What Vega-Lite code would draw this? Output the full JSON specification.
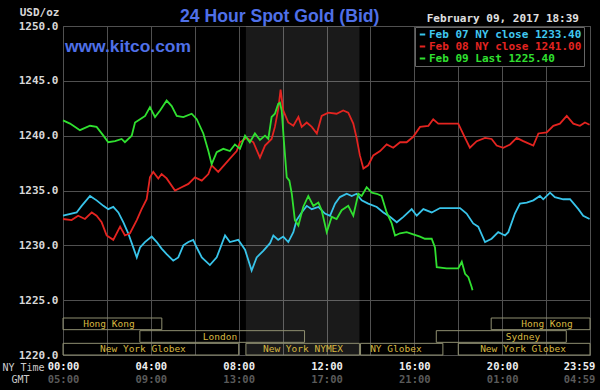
{
"$schema": "https://vega.github.io/schema/vega-lite/v6.json",
"width": 527, "height": 329,
"autosize": "none",
"padding": {"left": 63, "top": 26, "right": 10, "bottom": 35},
"background": "#000000",
"title": {"text": "24 Hour Spot Gold (Bid)", "anchor": "start", "frame": "group", "dx": 117, "dy": 37.5, "offset": 5, "baseline": "alphabetic", "font": "Liberation Sans", "fontSize": 17.6, "fontWeight": "bold", "color": "#4f70e8"},
"layer": [
{"layer": [
 {"data": {"values": [{"from": 8.33, "to": 13.5}]},
  "mark": {"type": "rect", "color": "#ffffff", "opacity": 0.1},
  "encoding": {"x": {"field": "from", "type": "quantitative", "scale": {"domain": [0, 24], "nice": false}}, "x2": {"field": "to"}, "y": {"datum": 1250, "type": "quantitative"}, "y2": {"datum": 1220}}},
 {"data": {"values": [
{"s":"07","h":0,"p":1232.7},{"s":"07","h":0.62,"p":1233.0},{"s":"07","h":0.85,"p":1233.6},{"s":"07","h":1.23,"p":1234.5},{"s":"07","h":1.53,"p":1234.1},{"s":"07","h":1.84,"p":1233.6},{"s":"07","h":2.06,"p":1233.3},{"s":"07","h":2.29,"p":1233.5},{"s":"07","h":2.52,"p":1233.0},{"s":"07","h":2.75,"p":1232.1},{"s":"07","h":2.97,"p":1231.1},{"s":"07","h":3.13,"p":1230.2},{"s":"07","h":3.36,"p":1228.9},{"s":"07","h":3.51,"p":1229.8},{"s":"07","h":3.73,"p":1230.3},{"s":"07","h":4.04,"p":1230.8},{"s":"07","h":4.27,"p":1230.3},{"s":"07","h":4.49,"p":1229.7},{"s":"07","h":4.72,"p":1229.2},{"s":"07","h":5.02,"p":1228.6},{"s":"07","h":5.25,"p":1228.9},{"s":"07","h":5.48,"p":1230.0},{"s":"07","h":5.71,"p":1230.3},{"s":"07","h":5.93,"p":1230.5},{"s":"07","h":6.09,"p":1229.8},{"s":"07","h":6.32,"p":1228.9},{"s":"07","h":6.69,"p":1228.2},{"s":"07","h":7.0,"p":1228.9},{"s":"07","h":7.38,"p":1230.9},{"s":"07","h":7.6,"p":1230.3},{"s":"07","h":7.98,"p":1230.5},{"s":"07","h":8.29,"p":1229.6},{"s":"07","h":8.59,"p":1227.7},{"s":"07","h":8.82,"p":1228.9},{"s":"07","h":9.12,"p":1229.5},{"s":"07","h":9.43,"p":1230.2},{"s":"07","h":9.58,"p":1230.9},{"s":"07","h":9.8,"p":1230.5},{"s":"07","h":10.03,"p":1230.8},{"s":"07","h":10.26,"p":1230.3},{"s":"07","h":10.49,"p":1231.2},{"s":"07","h":10.64,"p":1232.3},{"s":"07","h":10.87,"p":1233.0},{"s":"07","h":11.1,"p":1233.6},{"s":"07","h":11.33,"p":1233.3},{"s":"07","h":11.63,"p":1233.5},{"s":"07","h":11.93,"p":1232.9},{"s":"07","h":12.16,"p":1232.7},{"s":"07","h":12.39,"p":1233.8},{"s":"07","h":12.61,"p":1234.4},{"s":"07","h":12.92,"p":1234.7},{"s":"07","h":13.15,"p":1234.5},{"s":"07","h":13.37,"p":1234.7},{"s":"07","h":13.6,"p":1234.1},{"s":"07","h":13.9,"p":1233.8},{"s":"07","h":14.29,"p":1233.5},{"s":"07","h":14.59,"p":1233.0},{"s":"07","h":14.89,"p":1232.6},{"s":"07","h":15.2,"p":1232.1},{"s":"07","h":15.5,"p":1232.6},{"s":"07","h":15.88,"p":1233.3},{"s":"07","h":16.11,"p":1232.7},{"s":"07","h":16.41,"p":1233.3},{"s":"07","h":16.79,"p":1233.0},{"s":"07","h":17.17,"p":1233.4},{"s":"07","h":18.08,"p":1233.4},{"s":"07","h":18.38,"p":1232.9},{"s":"07","h":18.68,"p":1232.0},{"s":"07","h":18.91,"p":1231.7},{"s":"07","h":19.22,"p":1230.3},{"s":"07","h":19.52,"p":1230.6},{"s":"07","h":19.82,"p":1231.2},{"s":"07","h":20.13,"p":1230.9},{"s":"07","h":20.28,"p":1231.2},{"s":"07","h":20.58,"p":1232.9},{"s":"07","h":20.81,"p":1233.8},{"s":"07","h":21.12,"p":1233.9},{"s":"07","h":21.42,"p":1234.1},{"s":"07","h":21.72,"p":1234.5},{"s":"07","h":21.87,"p":1234.2},{"s":"07","h":22.18,"p":1234.8},{"s":"07","h":22.4,"p":1234.4},{"s":"07","h":22.78,"p":1234.2},{"s":"07","h":23.09,"p":1234.2},{"s":"07","h":23.47,"p":1233.3},{"s":"07","h":23.69,"p":1232.7},{"s":"07","h":23.98,"p":1232.4},
{"s":"08","h":0,"p":1232.4},{"s":"08","h":0.39,"p":1232.3},{"s":"08","h":0.69,"p":1232.7},{"s":"08","h":1.0,"p":1232.4},{"s":"08","h":1.31,"p":1233.0},{"s":"08","h":1.53,"p":1232.7},{"s":"08","h":1.76,"p":1232.1},{"s":"08","h":1.99,"p":1230.9},{"s":"08","h":2.29,"p":1230.5},{"s":"08","h":2.6,"p":1231.7},{"s":"08","h":2.82,"p":1230.9},{"s":"08","h":3.05,"p":1231.1},{"s":"08","h":3.36,"p":1232.3},{"s":"08","h":3.58,"p":1233.3},{"s":"08","h":3.81,"p":1234.2},{"s":"08","h":3.96,"p":1236.2},{"s":"08","h":4.11,"p":1236.7},{"s":"08","h":4.34,"p":1236.1},{"s":"08","h":4.49,"p":1236.5},{"s":"08","h":4.72,"p":1236.1},{"s":"08","h":5.1,"p":1235.0},{"s":"08","h":5.4,"p":1235.3},{"s":"08","h":5.71,"p":1235.6},{"s":"08","h":6.01,"p":1236.2},{"s":"08","h":6.32,"p":1235.9},{"s":"08","h":6.62,"p":1236.5},{"s":"08","h":6.77,"p":1237.3},{"s":"08","h":7.07,"p":1236.7},{"s":"08","h":7.38,"p":1237.4},{"s":"08","h":7.6,"p":1237.9},{"s":"08","h":7.91,"p":1238.6},{"s":"08","h":8.06,"p":1239.4},{"s":"08","h":8.36,"p":1239.8},{"s":"08","h":8.67,"p":1239.4},{"s":"08","h":8.97,"p":1238.0},{"s":"08","h":9.2,"p":1239.1},{"s":"08","h":9.5,"p":1239.7},{"s":"08","h":9.65,"p":1240.8},{"s":"08","h":9.8,"p":1242.4},{"s":"08","h":9.91,"p":1244.2},{"s":"08","h":10.03,"p":1242.3},{"s":"08","h":10.26,"p":1241.2},{"s":"08","h":10.49,"p":1240.9},{"s":"08","h":10.72,"p":1241.7},{"s":"08","h":10.87,"p":1240.8},{"s":"08","h":11.1,"p":1241.2},{"s":"08","h":11.33,"p":1240.8},{"s":"08","h":11.56,"p":1240.2},{"s":"08","h":11.78,"p":1241.8},{"s":"08","h":12.08,"p":1242.1},{"s":"08","h":12.46,"p":1242.0},{"s":"08","h":12.76,"p":1242.3},{"s":"08","h":12.99,"p":1242.1},{"s":"08","h":13.22,"p":1241.1},{"s":"08","h":13.37,"p":1239.8},{"s":"08","h":13.52,"p":1238.2},{"s":"08","h":13.68,"p":1237.0},{"s":"08","h":13.9,"p":1237.3},{"s":"08","h":14.13,"p":1238.2},{"s":"08","h":14.44,"p":1238.6},{"s":"08","h":14.74,"p":1239.2},{"s":"08","h":15.04,"p":1238.9},{"s":"08","h":15.35,"p":1239.4},{"s":"08","h":15.65,"p":1239.4},{"s":"08","h":15.95,"p":1239.9},{"s":"08","h":16.26,"p":1240.8},{"s":"08","h":16.64,"p":1240.9},{"s":"08","h":16.86,"p":1241.5},{"s":"08","h":17.09,"p":1241.1},{"s":"08","h":18.0,"p":1241.1},{"s":"08","h":18.31,"p":1239.8},{"s":"08","h":18.53,"p":1238.9},{"s":"08","h":18.84,"p":1239.5},{"s":"08","h":19.22,"p":1239.8},{"s":"08","h":19.52,"p":1239.7},{"s":"08","h":19.75,"p":1239.1},{"s":"08","h":20.05,"p":1238.9},{"s":"08","h":20.36,"p":1239.2},{"s":"08","h":20.66,"p":1239.8},{"s":"08","h":20.96,"p":1239.5},{"s":"08","h":21.42,"p":1239.1},{"s":"08","h":21.65,"p":1240.2},{"s":"08","h":22.03,"p":1240.3},{"s":"08","h":22.33,"p":1240.9},{"s":"08","h":22.63,"p":1241.1},{"s":"08","h":22.94,"p":1241.8},{"s":"08","h":23.24,"p":1241.1},{"s":"08","h":23.54,"p":1240.9},{"s":"08","h":23.77,"p":1241.2},{"s":"08","h":23.98,"p":1241.0},
{"s":"09","h":0,"p":1241.4},{"s":"09","h":0.32,"p":1241.1},{"s":"09","h":0.77,"p":1240.5},{"s":"09","h":1.23,"p":1240.9},{"s":"09","h":1.53,"p":1240.8},{"s":"09","h":1.84,"p":1240.0},{"s":"09","h":2.06,"p":1239.4},{"s":"09","h":2.37,"p":1239.5},{"s":"09","h":2.67,"p":1239.7},{"s":"09","h":2.82,"p":1239.4},{"s":"09","h":3.13,"p":1240.0},{"s":"09","h":3.28,"p":1241.2},{"s":"09","h":3.51,"p":1241.5},{"s":"09","h":3.74,"p":1241.8},{"s":"09","h":3.96,"p":1242.6},{"s":"09","h":4.19,"p":1241.7},{"s":"09","h":4.42,"p":1242.3},{"s":"09","h":4.72,"p":1243.2},{"s":"09","h":4.95,"p":1242.7},{"s":"09","h":5.18,"p":1241.8},{"s":"09","h":5.48,"p":1241.7},{"s":"09","h":5.86,"p":1242.0},{"s":"09","h":6.09,"p":1241.5},{"s":"09","h":6.39,"p":1240.2},{"s":"09","h":6.62,"p":1238.6},{"s":"09","h":6.77,"p":1237.4},{"s":"09","h":7.0,"p":1238.5},{"s":"09","h":7.3,"p":1238.8},{"s":"09","h":7.6,"p":1238.6},{"s":"09","h":7.83,"p":1239.2},{"s":"09","h":8.06,"p":1238.8},{"s":"09","h":8.29,"p":1240.0},{"s":"09","h":8.51,"p":1239.4},{"s":"09","h":8.74,"p":1240.2},{"s":"09","h":8.97,"p":1239.6},{"s":"09","h":9.2,"p":1240.0},{"s":"09","h":9.35,"p":1239.7},{"s":"09","h":9.5,"p":1241.7},{"s":"09","h":9.65,"p":1242.0},{"s":"09","h":9.8,"p":1242.9},{"s":"09","h":9.88,"p":1243.0},{"s":"09","h":9.96,"p":1242.3},{"s":"09","h":10.06,"p":1239.5},{"s":"09","h":10.19,"p":1236.2},{"s":"09","h":10.31,"p":1235.9},{"s":"09","h":10.42,"p":1234.7},{"s":"09","h":10.56,"p":1232.3},{"s":"09","h":10.72,"p":1231.8},{"s":"09","h":10.94,"p":1233.5},{"s":"09","h":11.17,"p":1234.5},{"s":"09","h":11.4,"p":1233.6},{"s":"09","h":11.63,"p":1233.9},{"s":"09","h":11.78,"p":1233.2},{"s":"09","h":12.01,"p":1231.2},{"s":"09","h":12.24,"p":1232.6},{"s":"09","h":12.46,"p":1232.4},{"s":"09","h":12.69,"p":1233.2},{"s":"09","h":12.99,"p":1233.6},{"s":"09","h":13.22,"p":1232.7},{"s":"09","h":13.45,"p":1234.7},{"s":"09","h":13.6,"p":1234.5},{"s":"09","h":13.83,"p":1235.3},{"s":"09","h":14.06,"p":1234.8},{"s":"09","h":14.29,"p":1234.7},{"s":"09","h":14.51,"p":1234.5},{"s":"09","h":14.74,"p":1233.0},{"s":"09","h":14.97,"p":1232.0},{"s":"09","h":15.12,"p":1230.9},{"s":"09","h":15.35,"p":1231.1},{"s":"09","h":15.65,"p":1231.2},{"s":"09","h":15.95,"p":1231.0},{"s":"09","h":16.26,"p":1230.8},{"s":"09","h":16.48,"p":1230.6},{"s":"09","h":16.79,"p":1230.6},{"s":"09","h":16.94,"p":1229.8},{"s":"09","h":17.02,"p":1228.0},{"s":"09","h":17.47,"p":1227.9},{"s":"09","h":18.0,"p":1227.9},{"s":"09","h":18.16,"p":1228.5},{"s":"09","h":18.31,"p":1227.4},{"s":"09","h":18.46,"p":1227.1},{"s":"09","h":18.61,"p":1226.2},{"s":"09","h":18.65,"p":1225.9}
 ]},
  "mark": {"type": "line", "strokeWidth": 1.8},
  "encoding": {
   "x": {"field": "h", "type": "quantitative", "scale": {"domain": [0, 24], "nice": false},
     "axis": {"values": [0,2,4,6,8,10,12,14,16,18,20,22,24], "grid": true, "domain": false, "ticks": false,
       "labelExpr": "datum.value % 4 != 0 ? '' : (datum.value == 24 ? '23:59' : (datum.value < 10 ? '0' : '') + datum.value + ':00')",
       "labelFont": "DejaVu Sans Mono", "labelFontWeight": "bold", "labelFontSize": 10.5, "labelColor": "#eeeeee", "labelPadding": 6,
       "labelFlush": false, "labelOverlap": false, "labelBound": false,
       "labelOffset": {"condition": {"test": "datum.value == 24", "value": -11}, "value": 0},
       "title": "NY Time", "titleX": -40, "titleY": 12.6, "titleAlign": "center", "titleBaseline": "middle", "titleFont": "DejaVu Sans Mono", "titleFontSize": 10, "titleFontWeight": "normal", "titleColor": "#cccccc"}},
   "y": {"field": "p", "type": "quantitative", "scale": {"domain": [1220, 1250], "zero": false, "nice": false},
     "axis": {"values": [1220,1225,1230,1235,1240,1245,1250], "format": ".1f", "grid": true, "domain": false, "ticks": false,
       "labelFont": "DejaVu Sans Mono", "labelFontWeight": "bold", "labelFontSize": 11, "labelColor": "#d8d8d8", "labelPadding": 5,
       "title": "USD/oz", "titleAngle": 0, "titleX": -4, "titleY": -13.3, "titleAlign": "right", "titleBaseline": "middle", "titleFont": "DejaVu Sans Mono", "titleFontWeight": "bold", "titleFontSize": 11, "titleColor": "#d8d8d8"}},
   "color": {"field": "s", "type": "nominal", "scale": {"domain": ["07", "08", "09"], "range": ["#38c4ea", "#e42420", "#30e030"]},
     "legend": {"orient": "none", "legendX": 352, "legendY": 1, "title": null, "direction": "vertical",
       "symbolType": "stroke", "symbolSize": 30, "symbolStrokeWidth": 2,
       "labelFont": "DejaVu Sans Mono", "labelFontWeight": "bold", "labelFontSize": 11,
       "labelColor": {"expr": "datum.value == '07' ? '#40c8f0' : datum.value == '08' ? '#e42420' : '#30e030'"},
       "labelExpr": "datum.value == '07' ? 'Feb 07 NY close 1233.40' : datum.value == '08' ? 'Feb 08 NY close 1241.00' : 'Feb 09 Last 1225.40'",
       "labelOffset": 1, "rowPadding": 0, "padding": 2, "fillColor": "#000000", "strokeColor": "#666666", "labelLimit": 300}}
  }},
 {"data": {"values": [{"t": "www.kitco.com"}]},
  "mark": {"type": "text", "align": "left", "baseline": "middle", "font": "Liberation Sans", "fontSize": 17.4, "fontWeight": "bold", "color": "#4f70e8", "dx": 2},
  "encoding": {"x": {"datum": 0, "type": "quantitative"}, "y": {"datum": 1248.1, "type": "quantitative"}, "text": {"field": "t"}}},
 {"data": {"values": [{"t": "February 09, 2017 18:39"}]},
  "mark": {"type": "text", "align": "right", "baseline": "middle", "font": "DejaVu Sans Mono", "fontSize": 11, "fontWeight": "bold", "color": "#e0e0e0", "dx": -11, "dy": -7},
  "encoding": {"x": {"datum": 24, "type": "quantitative"}, "y": {"datum": 1250, "type": "quantitative"}, "text": {"field": "t"}}}
]},
{"data": {"values": [
 {"name": "Hong Kong", "row": "r1", "start": 0, "end": 4.5, "mid": 2.09},
 {"name": "Hong Kong", "row": "r1", "start": 19.5, "end": 24, "mid": 22.04},
 {"name": "London", "row": "r2", "start": 3.5, "end": 11, "mid": 7.15},
 {"name": "Sydney", "row": "r2", "start": 17, "end": 22.92, "mid": 20.95},
 {"name": "New York Globex", "row": "r3", "start": 0, "end": 8.0, "mid": 3.64},
 {"name": "New York NYMEX", "row": "r3", "start": 8.33, "end": 13.5, "mid": 10.93},
 {"name": "NY Globex", "row": "r3", "start": 13.55, "end": 17.3, "mid": 15.16},
 {"name": "New York Globex", "row": "r3", "start": 18.0, "end": 24, "mid": 20.95}
 ]},
 "layer": [
  {"mark": {"type": "rect", "fillOpacity": 0, "stroke": "#8f8f70", "strokeWidth": 1},
   "encoding": {
    "x": {"field": "start", "type": "quantitative", "scale": {"domain": [0, 24], "nice": false},
      "axis": {"orient": "bottom", "offset": 13, "values": [0,4,8,12,16,20,24], "grid": false, "domain": false, "ticks": false,
        "labelExpr": "datum.value == 24 ? '04:59' : (((datum.value + 5) % 24) < 10 ? '0' : '') + ((datum.value + 5) % 24) + ':00'",
        "labelFont": "DejaVu Sans Mono", "labelFontWeight": "bold", "labelFontSize": 10.5, "labelColor": "#5a5a5a", "labelPadding": 6,
        "labelFlush": false, "labelOverlap": false, "labelBound": false,
        "labelOffset": {"condition": {"test": "datum.value == 24", "value": -11}, "value": 0},
        "title": "GMT", "titleX": -43, "titleY": 11.6, "titleAlign": "center", "titleBaseline": "middle", "titleFont": "DejaVu Sans Mono", "titleFontSize": 10, "titleFontWeight": "normal", "titleColor": "#cccccc"}},
    "x2": {"field": "end"},
    "y": {"field": "row", "type": "ordinal", "scale": {"domain": ["r1", "r2", "r3"], "range": [292, 329], "paddingInner": 0.08, "paddingOuter": 0}, "axis": null}
   }},
  {"mark": {"type": "text", "font": "DejaVu Sans Mono", "fontSize": 9.5, "color": "#d8b840", "baseline": "middle"},
   "encoding": {
    "x": {"field": "mid", "type": "quantitative"},
    "y": {"field": "row", "type": "ordinal"},
    "text": {"field": "name"}
   }}
 ]}
],
"resolve": {"scale": {"y": "independent"}, "axis": {"x": "independent", "y": "independent"}},
"config": {"view": {"stroke": "#555555", "strokeWidth": 1}, "axis": {"gridColor": "#505050", "gridWidth": 1}}
}
